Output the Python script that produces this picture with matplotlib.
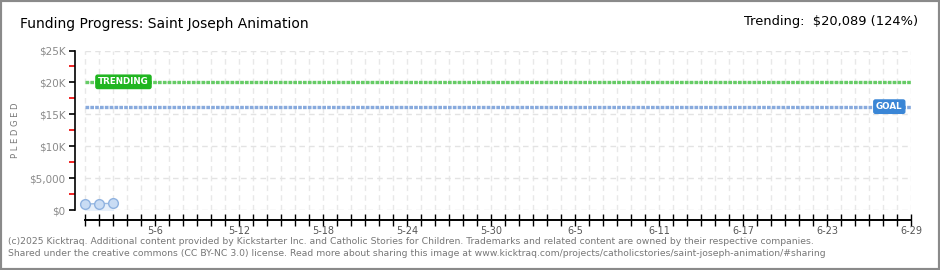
import matplotlib
matplotlib.use("Agg")
import matplotlib.pyplot as plt
import matplotlib.dates as mdates
from matplotlib.patches import Rectangle
from matplotlib.ticker import FixedLocator, FuncFormatter
import pandas as pd

# данные
dates = pd.to_datetime(["2025-05-01", "2025-05-02", "2025-05-03"])
pledged = [920, 1010, 1030]
goal = 16200
trending = 20089
start = pd.Timestamp("2025-05-01")
end = pd.Timestamp("2025-06-29")
label_dates = pd.date_range("2025-05-06", "2025-06-29", freq="6D")
y_ticks = [0, 5000, 10000, 15000, 20000, 25000]
y_labels = ["$0", "$5,000", "$10K", "$15K", "$20K", "$25K"]
title = "Funding Progress: Saint Joseph Animation"
trend_text = "Trending:  $20,089 (124%)"
footer = ["(c)2025 Kicktraq. Additional content provided by Kickstarter Inc. and Catholic Stories for Children. "
          "Trademarks and related content are owned by their respective companies.",
          "Shared under the creative commons (CC BY-NC 3.0) license. Read more about sharing this image at "
          "www.kicktraq.com/projects/catholicstories/saint-joseph-animation/#sharing"]

W, H = 940, 270
fig = plt.figure(figsize=(W / 100, H / 100), dpi=100)
fig.patch.set_facecolor("white")

# оси: x от 75 до 911 px, y от 50.5 до 210 px
ax = fig.add_axes([75 / W, (H - 210) / H, (911 - 75) / W, (210 - 50.5) / H])
x0 = mdates.date2num(start)
x1 = mdates.date2num(end)
ax.set_xlim(x0 - 0.7, x1)
ax.set_ylim(0, 25000)

# сетка
for d in pd.date_range(start, end, freq="D"):
    ax.axvline(mdates.date2num(d), color="#e8e8e8", lw=1, ls=(0, (4, 3)), zorder=0)
for y in y_ticks:
    ax.axhline(y, xmin=0.7 / (x1 - x0 + 0.7), color="#e3e3e3", lw=1, ls=(0, (4, 3)), zorder=0)

# линии тренда и цели
ax.plot([x0, x1], [trending, trending], color="#66cc66", lw=2.4, ls=(0, (1.1, 0.35)), zorder=2)
ax.plot([x0, x1], [goal, goal], color="#88aadd", lw=2.4, ls=(0, (1.1, 0.35)), zorder=2)
ax.text(x0 + 0.95, trending, "TRENDING", color="white", fontsize=6.3, fontweight="bold",
        ha="left", va="center", zorder=4,
        bbox=dict(boxstyle="round,pad=0.25,rounding_size=0.2", fc="#1fb51f", ec="#1fb51f"))
ax.text(x0 + 57.45, goal, "GOAL", color="white", fontsize=6.3, fontweight="bold",
        ha="center", va="center", zorder=4,
        bbox=dict(boxstyle="round,pad=0.25,rounding_size=0.2", fc="#3a86d6", ec="#3a86d6"))

# данные
xs = mdates.date2num(dates)
ax.fill_between(xs, pledged, 0, color="#e6effa", zorder=1)
ax.plot(xs, pledged, color="#9bbbe3", lw=1, marker="o", ms=7, mfc="#c9dcf4", mec="#8fb2e0",
        mew=1, zorder=3, clip_on=False)

# оформление осей
for s in ["top", "right"]:
    ax.spines[s].set_visible(False)
ax.spines["left"].set_color("black")
ax.spines["left"].set_linewidth(1.2)
ax.spines["bottom"].set_position(("outward", 7.2))
ax.spines["bottom"].set_bounds(x0, x1)
ax.spines["bottom"].set_linewidth(1.4)

ax.yaxis.set_major_locator(FixedLocator(y_ticks))
ax.set_yticklabels(y_labels)
ax.yaxis.set_minor_locator(FixedLocator([2500, 7500, 12500, 17500, 22500]))
ax.tick_params(axis="y", which="major", length=4, width=1.2, color="black",
               labelsize=7.5, labelcolor="#8a8a8a", pad=3)
ax.tick_params(axis="y", which="minor", length=4, width=1.2, color="#ee0000")

ax.xaxis.set_major_locator(FixedLocator(mdates.date2num(label_dates)))
ax.xaxis.set_minor_locator(mdates.DayLocator())
ax.xaxis.set_major_formatter(FuncFormatter(lambda v, p: "%d-%d" % (mdates.num2date(v).month,
                                                                  mdates.num2date(v).day)))
ax.tick_params(axis="x", which="both", direction="inout", length=8, width=1.0, color="black",
               labelsize=7, labelcolor="#555555", pad=0.5)

ax.set_ylabel("P L E D G E D", fontsize=6, color="#777777")
ax.yaxis.set_label_coords(-55 / (911 - 75), 0.5)

# тексты
fig.text(20 / W, 1 - 24 / H, title, fontsize=10, color="black", va="center", ha="left")
fig.text(918 / W, 1 - 22 / H, trend_text, fontsize=9.4, color="black", va="center", ha="right")
fig.text(8 / W, 1 - 242 / H, footer[0], fontsize=6.65, color="#777777", va="center", ha="left")
fig.text(8 / W, 1 - 254 / H, footer[1], fontsize=6.65, color="#777777", va="center", ha="left")

fig.add_artist(Rectangle((0, 0), 1, 1, transform=fig.transFigure, fill=False,
                         ec="#8a8a8a", lw=3, clip_on=False))

fig.savefig("out.png", dpi=100)
